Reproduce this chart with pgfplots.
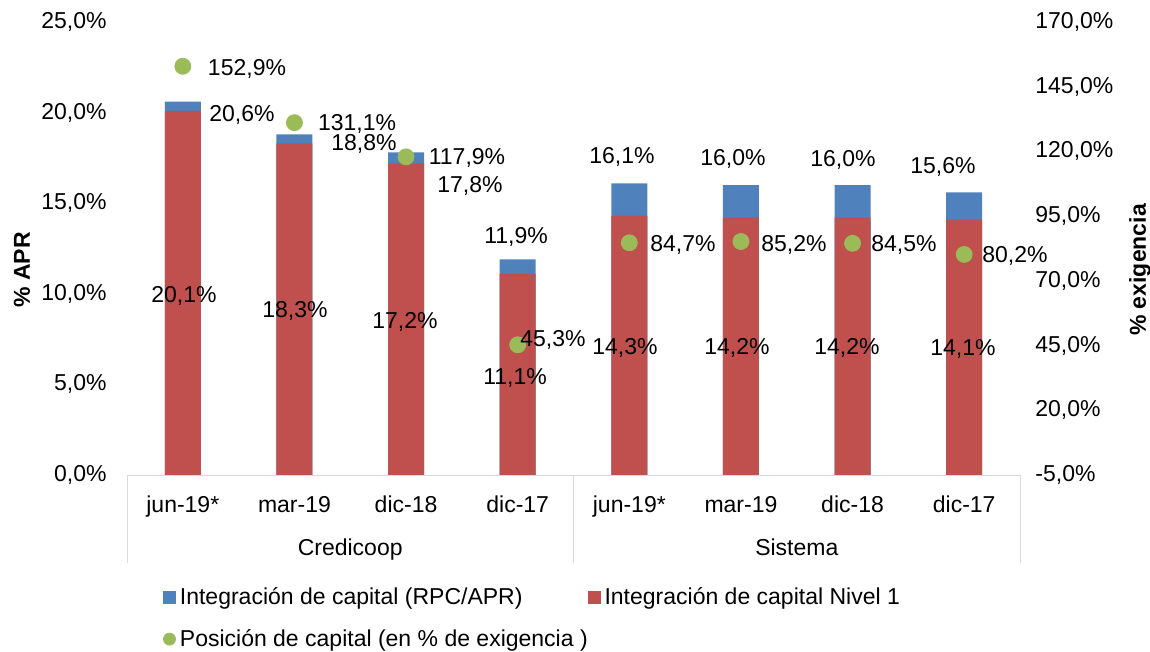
\documentclass[border=0pt]{standalone}
\usepackage{pgfplots}
\pgfplotsset{compat=1.18}
\usepackage{fontspec}
\setmainfont{Liberation Sans}
\definecolor{cRPC}{HTML}{4F81BD}
\definecolor{cNiv}{HTML}{C0504D}
\definecolor{cPos}{HTML}{9BBB59}
\definecolor{lineGray}{HTML}{D9D9D9}
% data label at a pixel position of the reference (x right, y down)
\newcommand{\lab}[3]{\node[inner sep=0pt] at ({(#1-127)/2*1pt},{(475-#2)/2*1pt}) {#3};}
\begin{document}
\begin{tikzpicture}[font=\fontsize{11.5}{13.5}\selectfont]
\useasboundingbox (-63.5pt,-88.5pt) rectangle (511.5pt,237.5pt);
\begin{axis}[
    width=446.5pt, height=226.5pt, scale only axis,
    xmin=-0.5, xmax=7.5, ymin=0, ymax=25,
    axis x line*=bottom, axis y line*=left,
    x axis line style={lineGray}, y axis line style={draw=none},
    major tick length=0pt,
    xtick={0,...,7},
    xticklabels={jun-19*,mar-19,dic-18,dic-17,jun-19*,mar-19,dic-18,dic-17},
    xticklabel style={anchor=base, yshift=-19pt},
    ytick={0,5,...,25},
    yticklabels={{0,0\%},{5,0\%},{10,0\%},{15,0\%},{20,0\%},{25,0\%}},
    yticklabel style={anchor=east, inner sep=0pt, xshift=-10pt},
    ybar, bar width=18pt, bar shift=0pt,
]
\addplot[fill=cRPC, draw=none] coordinates {
    (0,20.6) (1,18.8) (2,17.8) (3,11.9) (4,16.1) (5,16.0) (6,16.0) (7,15.6)
};
\addplot[fill=cNiv, draw=none] coordinates {
    (0,20.1) (1,18.3) (2,17.2) (3,11.1) (4,14.3) (5,14.2) (6,14.2) (7,14.1)
};
\end{axis}
\begin{axis}[
    width=446.5pt, height=226.5pt, scale only axis,
    xmin=-0.5, xmax=7.5, ymin=-5, ymax=170,
    axis x line=none, axis y line*=right,
    y axis line style={draw=none},
    major tick length=0pt,
    ytick={-5,20,...,170},
    yticklabels={{-5,0\%},{20,0\%},{45,0\%},{70,0\%},{95,0\%},{120,0\%},{145,0\%},{170,0\%}},
    yticklabel style={anchor=west, inner sep=0pt, xshift=7.5pt},
    legend columns=2,
    legend cell align=left,
    legend style={draw=none, fill=none, inner sep=0pt,
        at={(0.040,-0.238)}, anchor=north west,
        /tikz/every even column/.append style={column sep=-2pt},
        row sep=7pt},
]
\addlegendimage{legend image code/.code={\fill[cRPC] (0pt,-3pt) rectangle (6pt,3pt);}}
\addlegendentry{Integración de capital (RPC/APR)}
\addlegendimage{legend image code/.code={\fill[cNiv] (0pt,-3pt) rectangle (6pt,3pt);}}
\addlegendentry{Integración de capital Nivel 1}
\addplot[only marks, mark=*, mark size=4pt, color=cPos,
    legend image code/.code={\fill[cPos] (3pt,0pt) circle (3pt);}] coordinates {
    (0,152.9) (1,131.1) (2,117.9) (3,45.3) (4,84.7) (5,85.2) (6,84.5) (7,80.2)
};
\addlegendentry{Posición de capital (en \% de exigencia )}
\end{axis}
% category box below the axis
\draw[lineGray] (0pt,0pt) -- (0pt,-44pt);
\draw[lineGray] (223.25pt,0pt) -- (223.25pt,-44pt);
\draw[lineGray] (446.5pt,0pt) -- (446.5pt,-44pt);
% axis titles
\node[rotate=90, font=\fontsize{11.5}{13.5}\selectfont\bfseries] at (-52.5pt,102.5pt) {\% APR};
\node[rotate=90, font=\fontsize{11.5}{13.5}\selectfont\bfseries] at (506.5pt,102.5pt) {\% exigencia};
% group labels
\node[anchor=base] at (111.6pt,-40.5pt) {Credicoop};
\node[anchor=base] at (334.9pt,-40.5pt) {Sistema};
% labels of total integration
\lab{242}{115}{20,6\%}
\lab{364}{144}{18,8\%}
\lab{470}{186}{17,8\%}
\lab{516}{237}{11,9\%}
\lab{622}{157}{16,1\%}
\lab{733}{159}{16,0\%}
\lab{843}{160}{16,0\%}
\lab{943}{167}{15,6\%}
% labels of Nivel 1
\lab{184}{296}{20,1\%}
\lab{295}{311}{18,3\%}
\lab{405}{322}{17,2\%}
\lab{515}{378}{11,1\%}
\lab{625}{348}{14,3\%}
\lab{737}{348}{14,2\%}
\lab{847}{348}{14,2\%}
\lab{963}{349}{14,1\%}
% labels of capital position
\lab{247}{69}{152,9\%}
\lab{357}{124}{131,1\%}
\lab{467}{158}{117,9\%}
\lab{553}{340}{45,3\%}
\lab{683}{245}{84,7\%}
\lab{794}{245}{85,2\%}
\lab{904}{245}{84,5\%}
\lab{1015}{256}{80,2\%}
\end{tikzpicture}
\end{document}
